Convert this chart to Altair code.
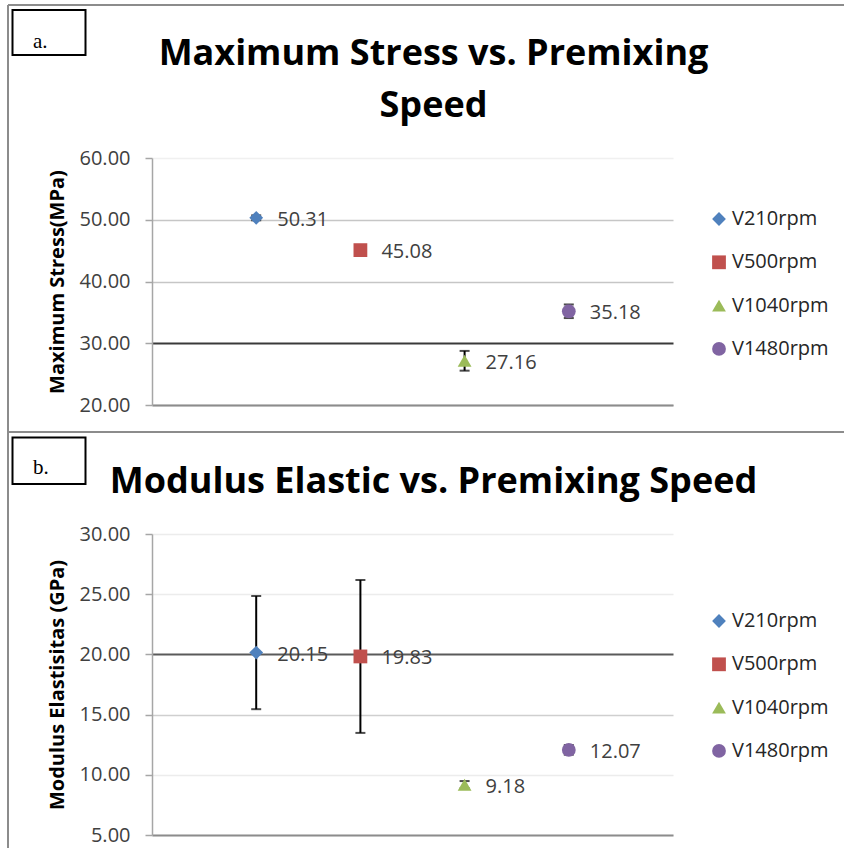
import altair as alt
import pandas as pd

# ---- data ----
speeds = ["V210rpm", "V500rpm", "V1040rpm", "V1480rpm"]
stress = [50.31, 45.08, 27.16, 35.18]
stress_err = [0.4, 0.3, 1.6, 1.1]
modulus = [20.15, 19.83, 9.18, 12.07]
modulus_err = [4.7, 6.35, 0.3, 0.4]
stress_ticks = [20, 30, 40, 50, 60]
modulus_ticks = [5, 10, 15, 20, 25, 30]

colors = ["#4F81BD", "#C0504D", "#9BBB59", "#8064A2"]
shapes = ["diamond", "square", "triangle-up", "circle"]

FONT = "Open Sans"
W = 521


def one(**kw):
    return alt.Chart(pd.DataFrame({"k": [0]})).encode(**kw)


def panel(values, errs, ticks, ytitle, title_lines, title_y, letter, h,
          grid_color, grid_width, legend_y, border_top, border_bottom,
          box_top, box_bottom, letter_y, top_line=False, sep_y=None):
    df = pd.DataFrame({"speed": speeds, "value": values, "err": errs})
    base = alt.Chart(df).transform_calculate(
        lo="datum.value - datum.err", hi="datum.value + datum.err")

    x = alt.X("speed:N", sort=speeds,
              scale=alt.Scale(type="point", padding=1),
              axis=alt.Axis(labels=False, ticks=False, title=None, grid=False,
                            domainColor="#8c8c8c", domainWidth=2))
    yaxis = alt.Axis(values=ticks, format=".2f", title=ytitle,
                     labelFont=FONT, labelFontSize=20, labelColor="#404040",
                     labelPadding=15, tickSize=7, tickColor="#a6a6a6", tickWidth=1.5,
                     domainColor="#a6a6a6", domainWidth=1.5,
                     gridColor=grid_color, gridWidth=grid_width,
                     titleFont=FONT, titleFontSize=20, titleFontWeight="bold",
                     titleColor="black", titleX=-95, titleY=h / 2, titleAngle=270,
                     titleAlign="center", titleBaseline="middle")
    yscale = alt.Scale(domain=[ticks[0], ticks[-1]], nice=False, zero=False)

    def Y(field):
        return alt.Y(field, scale=yscale, axis=yaxis)

    leg = alt.Legend(title=None, orient="none", legendX=557, legendY=legend_y,
                     direction="vertical", labelFont=FONT, labelFontSize=20,
                     labelColor="#262626", symbolSize=190, rowPadding=23.3,
                     labelOffset=3, padding=0, symbolStrokeWidth=0)
    color = alt.Color("speed:N", sort=speeds,
                      scale=alt.Scale(domain=speeds, range=colors), legend=leg)
    shape = alt.Shape("speed:N", sort=speeds,
                      scale=alt.Scale(domain=speeds, range=shapes), legend=leg)

    bars = base.mark_rule(color="black", strokeWidth=2).encode(
        x=x, y=Y("lo:Q"), y2="hi:Q")
    cap_lo = base.mark_tick(orient="horizontal", color="black", size=10,
                            thickness=2).encode(x=x, y=Y("lo:Q"))
    cap_hi = base.mark_tick(orient="horizontal", color="black", size=10,
                            thickness=2).encode(x=x, y=Y("hi:Q"))
    pts = base.mark_point(filled=True, size=190, opacity=1).encode(
        x=x, y=Y("value:Q"), color=color, shape=shape)
    labels = base.mark_text(align="left", baseline="middle", dx=21, dy=2,
                            font=FONT, fontSize=20, color="#404040").encode(
        x=x, y=Y("value:Q"), text=alt.Text("value:Q", format=".2f"))

    deco = []
    if top_line:
        deco.append(one(x=alt.value(-144), x2=alt.value(692), y=alt.value(border_top))
                    .mark_rule(color="#8c8c8c", strokeWidth=2))
    if sep_y is not None:
        deco.append(one(x=alt.value(-144), x2=alt.value(692), y=alt.value(sep_y))
                    .mark_rule(color="#8c8c8c", strokeWidth=2))
    deco.append(one(x=alt.value(-144), y=alt.value(border_top), y2=alt.value(border_bottom))
                .mark_rule(color="#8c8c8c", strokeWidth=2))
    deco.append(one(x=alt.value(-139.5), x2=alt.value(-66.5),
                    y=alt.value(box_top), y2=alt.value(box_bottom))
                .mark_rect(fill="white", stroke="black", strokeWidth=2))
    deco.append(one(x=alt.value(-119), y=alt.value(letter_y))
                .mark_text(text=letter, align="left", baseline="alphabetic",
                           font="Liberation Serif", fontSize=21, color="black"))
    deco.append(one(x=alt.value(W / 2 + 21), y=alt.value(title_y))
                .mark_text(text=title_lines, align="center", baseline="alphabetic",
                           font=FONT, fontSize=36, fontWeight="bold", color="black",
                           lineHeight=52))

    return alt.layer(bars, cap_lo, cap_hi, pts, labels, *deco).properties(
        width=W, height=h)


grid_a = {"condition": [{"test": "datum.value === 30", "value": "#3a3a3a"},
                        {"test": "datum.value === 60", "value": "#f0f0f0"}],
          "value": "#c6c6c6"}
width_a = {"condition": {"test": "datum.value === 30", "value": 2}, "value": 1.5}
grid_b = {"condition": [{"test": "datum.value === 20", "value": "#5a5a5a"},
                        {"test": "datum.value === 15", "value": "#cfcfcf"}],
          "value": "#ececec"}
width_b = {"condition": {"test": "datum.value === 20", "value": 2}, "value": 1.5}

chart_a = panel(stress, stress_err, stress_ticks, "Maximum Stress(MPa)",
                ["Maximum Stress vs. Premixing", "Speed"], -93, "a.", 247,
                grid_a, width_a, 51, -153, 274, -148, -103, -110,
                top_line=True, sep_y=274)
chart_b = panel(modulus, modulus_err, modulus_ticks, "Modulus Elastisitas  (GPa)",
                "Modulus Elastic vs. Premixing Speed", -41, "b.", 301,
                grid_b, width_b, 77, -102, 314, -96.5, -50, -60)

chart = alt.vconcat(chart_a, chart_b, spacing=129, bounds="flush").resolve_scale(
    color="independent", shape="independent", y="independent"
).resolve_legend(color="independent", shape="independent").configure_view(
    stroke=None
).properties(padding={"left": 7, "top": 4, "right": 0, "bottom": 0},
             background="white")

chart.save("out.html", embed_options={"renderer": "svg", "actions": False})
